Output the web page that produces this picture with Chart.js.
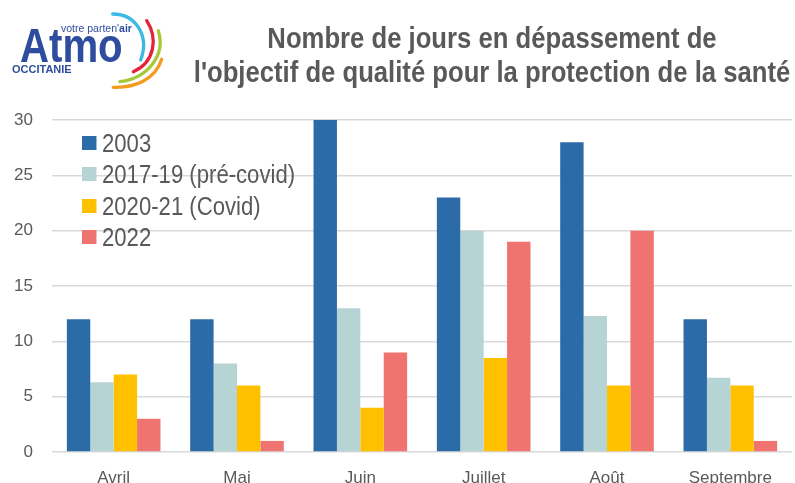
<!DOCTYPE html>
<html>
<head>
<meta charset="utf-8">
<script src="https://cdn.jsdelivr.net/npm/chart.js@4.4.1/dist/chart.umd.min.js"></script>
<style>
    html, body { margin: 0; padding: 0; background: #fff; }
    body { width: 795px; height: 483px; overflow: hidden; position: relative; }
    #wrap { position: absolute; left: 0; top: 0; width: 795px; height: 500px; }
    /* no narrow font installed: squeeze Liberation Sans horizontally */
    #title {
        position: absolute; left: 132px; width: 720px; top: 21px;
        text-align: center; color: #595959; white-space: nowrap;
        font: bold 29px "Liberation Sans", Arial, sans-serif;
        line-height: 34px;
        transform: scaleX(0.885); transform-origin: 50% 0;
    }
    #legend {
        position: absolute; left: 82px; top: 128px; color: #595959;
        font: 26px "Liberation Sans", Arial, sans-serif;
        transform: scaleX(0.851); transform-origin: 0 0;
    }
    .item { height: 31.3px; line-height: 31.3px; white-space: nowrap; }
    .box { display: inline-block; width: 16.5px; height: 14px; margin-right: 7px; vertical-align: middle; position: relative; top: -2px; }
    #logo { position: absolute; left: 0; top: 0; width: 180px; height: 100px; }
    .atmo { position: absolute; left: 20px; top: 21px; color: #2E4D9E;
        font: bold 49px "Liberation Sans", Arial, sans-serif; line-height: 49px;
        transform: scaleX(0.82); transform-origin: 0 0; }
    .tag { position: absolute; left: 61px; top: 22.5px; color: #2E4D9E;
        font: 10.5px "Liberation Sans", Arial, sans-serif; line-height: 11px; }
    .occ { position: absolute; left: 12px; top: 63.5px; color: #2E4D9E;
        font: bold 11px "Liberation Sans", Arial, sans-serif; line-height: 11px; }
</style>
</head>
<body>
<div id="wrap"><canvas id="chart" width="795" height="500"></canvas></div>
<div id="logo">
    <svg width="180" height="100" style="position:absolute;left:0;top:0" fill="none" stroke-linecap="round" stroke-width="3.3">
        <path d="M112.7,14 C135,14 150,35 140.7,60" stroke="#3BB9E4"/>
        <path d="M146.7,20.7 C158,38 155,62 133.3,71.7" stroke="#E5243B"/>
        <path d="M158.3,30.7 C166,55 148,78 120,81.7" stroke="#A6C93A"/>
        <path d="M161.7,59.3 C155,80 135,88 113.3,87.3" stroke="#F39A1F"/>
    </svg>
    <div class="tag">votre parten'<b>air</b></div>
    <div class="atmo">Atmo</div>
    <div class="occ">OCCITANIE</div>
</div>
<div id="title">Nombre de jours en dépassement de<br>l'objectif de qualité pour la protection de la santé</div>
<div id="legend"></div>
<script>
// Months shown on the x axis
const months = ['Avril', 'Mai', 'Juin', 'Juillet', 'Août', 'Septembre'];

// Series labels and colours
const seriesLabels = ['2003', '2017-19 (pré-covid)', '2020-21 (Covid)', '2022'];
const seriesColors = ['#2B6BA7', '#B5D4D3', '#FFC000', '#EF7370'];

// Days above the health target, per month
const days2003 = [12, 12, 30, 23, 28, 12];
const days2017_19 = [6.3, 8, 13, 20, 12.3, 6.7];
const days2020_21 = [7, 6, 4, 8.5, 6, 6];
const days2022 = [3, 1, 9, 19, 20, 1];

const yTicks = [0, 5, 10, 15, 20, 25, 30];

const seriesValues = [days2003, days2017_19, days2020_21, days2022];
const tickFont = '"Liberation Sans", Arial, sans-serif';

// Build the legend next to the bars
const legendEl = document.getElementById('legend');
seriesLabels.forEach(function(label, i) {
    const row = document.createElement('div');
    row.className = 'item';
    row.innerHTML = '<span class="box" style="background:' + seriesColors[i] + '"></span>' + label;
    legendEl.appendChild(row);
});

new Chart(document.getElementById('chart'), {
    type: 'bar',
    data: {
        labels: months,
        datasets: seriesValues.map(function(values, i) {
            return {
                label: seriesLabels[i],
                data: values,
                backgroundColor: seriesColors[i],
                categoryPercentage: 0.759,
                barPercentage: 1
            };
        })
    },
    options: {
        responsive: false,
        animation: false,
        layout: { padding: { top: 120, right: 3, left: 0, bottom: 0 } },
        plugins: {
            legend: { display: false },
            title: { display: false },
            tooltip: { enabled: false }
        },
        scales: {
            x: {
                grid: { display: false },
                border: { display: false },
                ticks: { color: '#595959', font: { family: tickFont, size: 17 }, padding: 8 },
                afterFit: function(scale) { scale.height = 48; }
            },
            y: {
                min: 0,
                max: 30,
                afterBuildTicks: function(scale) {
                    scale.ticks = yTicks.map(function(v) { return { value: v }; });
                },
                grid: { color: '#D9D9D9', lineWidth: 1.5, drawTicks: false },
                border: { display: false },
                ticks: { color: '#595959', font: { family: tickFont, size: 17 }, padding: 19 },
                afterFit: function(scale) { scale.width = 52; }
            }
        }
    }
});
</script>
</body>
</html>
